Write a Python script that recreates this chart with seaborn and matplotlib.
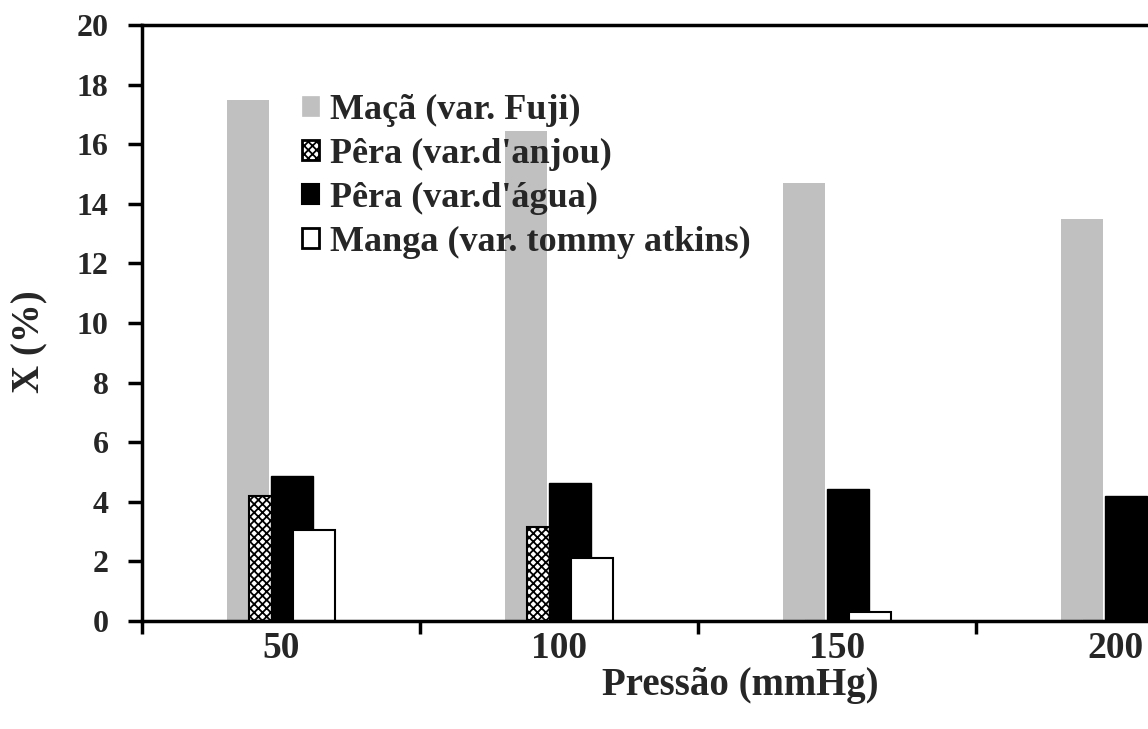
import numpy as np
import pandas as pd
import matplotlib
matplotlib.use("Agg")
import matplotlib.pyplot as plt
from matplotlib.patches import Patch
import seaborn as sns

# ---- data ----
pressures = ["50", "100", "150", "200"]
series = ["Maçã (var. Fuji)", "Pêra (var.d'anjou)", "Pêra (var.d'água)",
          "Manga (var. tommy atkins)"]
maca_fuji = [17.5, 16.45, 14.7, 13.5]
pera_anjou = [4.2, 3.15, 0.0, 0.0]
pera_agua = [4.85, 4.62, 4.42, 4.2]
manga_tommy = [3.05, 2.1, 0.3, 0.0]
y_ticks = [0, 2, 4, 6, 8, 10, 12, 14, 16, 18, 20]

values = [maca_fuji, pera_anjou, pera_agua, manga_tommy]
df = pd.DataFrame({
    "Pressão": [p for _ in series for p in pressures],
    "Série": [s for s in series for _ in pressures],
    "X": [v for vals in values for v in vals],
})

# ---- style ----
sns.set_theme(style="white")
plt.rcParams['font.family'] = ['Liberation Serif', 'DejaVu Serif']
plt.rcParams['font.weight'] = 'bold'
plt.rcParams['hatch.linewidth'] = 1.3

styles = [
    dict(facecolor="#c0c0c0", edgecolor="#c0c0c0", hatch=None, lw=0),
    dict(facecolor="white", edgecolor="black", hatch="xxxx", lw=1.5),
    dict(facecolor="black", edgecolor="black", hatch=None, lw=1.0),
    dict(facecolor="white", edgecolor="black", hatch=None, lw=1.5),
]

fig = plt.figure(figsize=(11.48, 7.29), dpi=100)
ax = fig.add_axes([142/1148, 108/729, 1112/1148, 596/729])

sns.barplot(data=df, x="Pressão", y="X", hue="Série", order=pressures,
            hue_order=series, dodge=True, width=0.316, saturation=1,
            palette=["#c0c0c0", "white", "black", "white"],
            legend=False, errorbar=None, ax=ax)

bar_w = 0.151
for cont, st in zip(ax.containers, styles):
    for bar in cont:
        c = bar.get_x() + bar.get_width() / 2
        bar.set_width(bar_w)
        bar.set_x(c - bar_w / 2)
        bar.set_facecolor(st["facecolor"])
        bar.set_edgecolor(st["edgecolor"])
        bar.set_linewidth(st["lw"])
        if st["hatch"]:
            bar.set_hatch(st["hatch"])

ax.set_xlim(-0.5, 3.5)
ax.set_ylim(0, 20)
ax.set_yticks(y_ticks)
ax.set_yticklabels([str(t) for t in y_ticks], fontsize=23, fontweight='bold')
ax.set_xticks(range(len(pressures)))
ax.set_xticklabels(pressures, fontsize=27, fontweight='bold')
ax.set_xticks([-0.5, 0.5, 1.5, 2.5, 3.5], minor=True)
ax.tick_params(axis='x', which='major', length=0, pad=7)
ax.tick_params(axis='x', which='minor', length=9, width=2.5, color='black',
               direction='out', bottom=True)
ax.tick_params(axis='y', length=10, width=2.5, color='black', direction='out',
               left=True, pad=14)

for sp in ax.spines.values():
    sp.set_visible(True)
    sp.set_color('black')
    sp.set_linewidth(2.5)

ax.set_xlabel("Pressão (mmHg)", fontsize=28, fontweight='bold')
ax.xaxis.set_label_coords((740 - 142) / 1112, (621 - 667) / 596)
ax.set_ylabel("X (%)", fontsize=28, fontweight='bold')
ax.yaxis.set_label_coords((48 - 142) / 1112, (621 - 342) / 596)

handles = [Patch(facecolor=st["facecolor"], edgecolor=st["edgecolor"],
                 hatch=st["hatch"], linewidth=st["lw"] + 0.5) for st in styles]
leg = ax.legend(handles, series, loc='upper left',
                bbox_to_anchor=(302/1148, 1 - 94/729), bbox_transform=fig.transFigure,
                frameon=False, borderpad=0, borderaxespad=0,
                handlelength=0.48, handleheight=0.48, handletextpad=0.3,
                labelspacing=0.3, prop=dict(size=26, weight='bold'))

fig.savefig("out.png", dpi=100)
